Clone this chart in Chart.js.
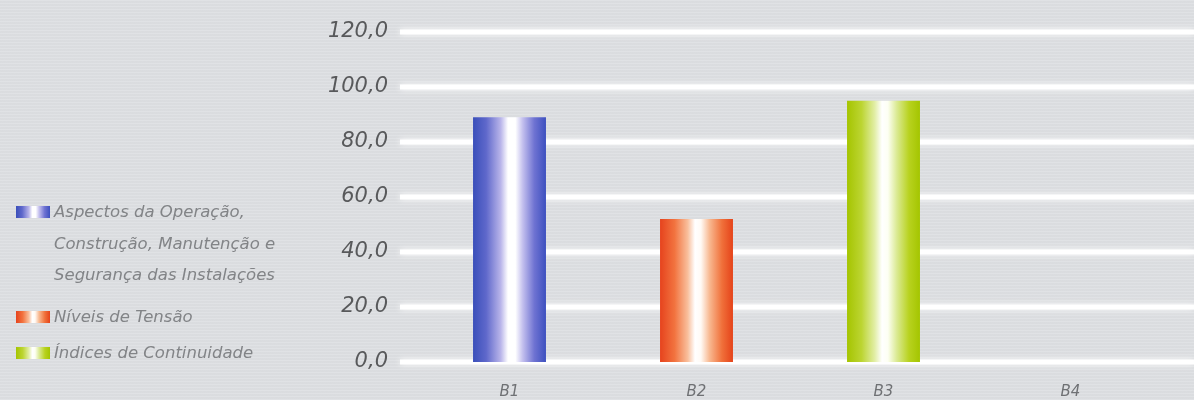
<!DOCTYPE html>
<html>
<head>
<meta charset="utf-8">
<script src="https://cdn.jsdelivr.net/npm/chart.js@4.4.1/dist/chart.umd.min.js"></script>
<style>
  html, body { margin: 0; padding: 0; }
  body {
    width: 1194px; height: 400px; overflow: hidden; position: relative;
    background-color: #dddfe2;
    background-image: repeating-linear-gradient(0deg, rgba(255,255,255,0.10) 0px, rgba(255,255,255,0.10) 1px, rgba(0,0,0,0.012) 1px, rgba(0,0,0,0.012) 3px);
  }
  #wrap { position: absolute; left: 0; top: 0; width: 1194px; height: 400px; }
  #legend { position: absolute; left: 0; top: 0; width: 300px; height: 400px;
    font-family: "DejaVu Sans", sans-serif; font-style: italic; font-size: 16.5px; color: #828487; }
  .item { position: absolute; left: 16px; }
  .sw { position: absolute; left: 0; width: 34px; height: 12px; }
  .txt { position: absolute; left: 38px; white-space: nowrap; line-height: 31.5px; }
</style>
</head>
<body>
<div id="wrap"><canvas id="c" width="1194" height="400"></canvas></div>
<div id="legend"></div>
<script>
// Categories, series and axis ticks
const categories = ["B1", "B2", "B3", "B4"];
const seriesNames = [
  ["Aspectos da Operação,", "Construção, Manutenção e", "Segurança das Instalações"],
  ["Níveis de Tensão"],
  ["Índices de Continuidade"]
];
const aspectosValues   = [89.0, null, null, null];
const niveisValues     = [null, 52.0, null, null];
const indicesValues    = [null, null, 95.0, null];
const yTickValues = [0, 20, 40, 60, 80, 100, 120];

// Shading stops for each series (left edge -> highlight -> right edge)
const shades = [
  [[0, "#3a4fba"], [0.18, "#5f68cb"], [0.38, "#b9b5ea"], [0.48, "#ffffff"], [0.58, "#ffffff"], [0.68, "#c4c0ee"], [0.84, "#6f73d2"], [1, "#3d50bf"]],
  [[0, "#e6431d"], [0.2, "#f2733f"], [0.38, "#f9bf9c"], [0.48, "#ffffff"], [0.56, "#fffaf5"], [0.68, "#f8b890"], [0.85, "#f0703a"], [1, "#e5431a"]],
  [[0, "#a5c400"], [0.2, "#bcd532"], [0.38, "#e2eea6"], [0.48, "#ffffff"], [0.56, "#fdfff3"], [0.68, "#dbea95"], [0.85, "#b8d21f"], [1, "#a4c500"]]
];

const BAR_FRACTION = 0.39;

function barFill(seriesIndex) {
  return (ctx) => {
    const chart = ctx.chart;
    const xs = chart.scales && chart.scales.x;
    if (!chart.chartArea || !xs) return shades[seriesIndex][0][1];
    const cx = xs.getPixelForValue(ctx.dataIndex);
    const w = (xs.width / categories.length) * BAR_FRACTION;
    const g = chart.ctx.createLinearGradient(cx - w / 2, 0, cx + w / 2, 0);
    shades[seriesIndex].forEach(([o, c]) => g.addColorStop(o, c));
    return g;
  };
}

// Soft white horizontal rules behind the bars, across the full width
const softGrid = {
  id: "softGrid",
  beforeDatasetsDraw(chart) {
    const { ctx } = chart;
    const ys = chart.scales.y;
    ctx.save();
    ys.ticks.forEach((t) => {
      const y = Math.round(ys.getPixelForValue(t.value));
      ctx.shadowColor = "rgba(255,255,255,1)";
      ctx.shadowBlur = 6;
      ctx.strokeStyle = "rgba(255,255,255,0.97)";
      ctx.lineWidth = 5;
      ctx.beginPath();
      ctx.moveTo(400, y);
      ctx.lineTo(chart.width, y);
      ctx.stroke();
    });
    ctx.restore();
  }
};

const seriesValues = [aspectosValues, niveisValues, indicesValues];

new Chart(document.getElementById("c"), {
  type: "bar",
  data: {
    labels: categories,
    datasets: seriesValues.map((vals, i) => ({
      label: seriesNames[i].join(" "),
      data: vals,
      backgroundColor: barFill(i),
      borderWidth: 0,
      grouped: false,
      barPercentage: BAR_FRACTION,
      categoryPercentage: 1.0
    }))
  },
  options: {
    responsive: false,
    animation: false,
    devicePixelRatio: 1,
    layout: { padding: { left: 300, right: 30, top: 32, bottom: 0 } },
    plugins: { legend: { display: false }, tooltip: { enabled: false } },
    scales: {
      x: {
        grid: { display: false, drawTicks: false },
        border: { display: false },
        afterFit(scale) { scale.height = 38; },
        ticks: {
          color: "#6f7174",
          padding: 21,
          font: { family: "DejaVu Sans", style: "italic", size: 15 }
        }
      },
      y: {
        min: 0,
        max: 120,
        afterBuildTicks(scale) { scale.ticks = yTickValues.map((v) => ({ value: v })); },
        afterFit(scale) {
          scale.width = 116;
          scale.paddingTop = 0;
          scale.paddingBottom = 0;
        },
        grid: { display: false, drawTicks: false },
        border: { display: false },
        ticks: {
          color: "#58595b",
          padding: 28,
          font: { family: "DejaVu Sans", style: "italic", size: 21 },
          callback: (v) => Number(v).toFixed(1).replace(".", ",")
        }
      }
    }
  },
  plugins: [softGrid]
});

// Legend built from the series names and shading
const legendTops = [196, 301, 337];
const legendEl = document.getElementById("legend");
seriesNames.forEach((lines, i) => {
  const item = document.createElement("div");
  item.className = "item";
  item.style.top = legendTops[i] + "px";
  const sw = document.createElement("div");
  sw.className = "sw";
  sw.style.top = "10px";
  sw.style.background = "linear-gradient(90deg," + shades[i].map(([o, c]) => c + " " + (o * 100) + "%").join(",") + ")";
  const txt = document.createElement("div");
  txt.className = "txt";
  txt.innerHTML = lines.join("<br>");
  item.appendChild(sw);
  item.appendChild(txt);
  legendEl.appendChild(item);
});
</script>
</body>
</html>
